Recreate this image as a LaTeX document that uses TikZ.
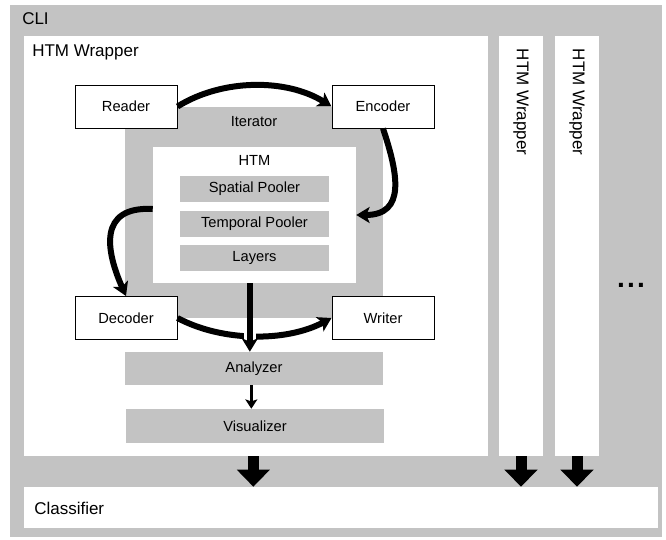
\documentclass[tikz,border=0pt]{standalone}
\usepackage{fontspec}
\setmainfont{Liberation Sans}
\usetikzlibrary{arrows.meta}
\definecolor{clig}{HTML}{C3C3C3}

\begin{document}
\begin{tikzpicture}[x=.75pt,y=-.75pt,font=\fontsize{11}{13}\selectfont,
 pane/.style={fill=clig,inner sep=0pt},
 sheet/.style={fill=white,inner sep=0pt},
 unit/.style={draw=black,fill=white,line width=.75pt,minimum width=76.5pt,minimum height=32.25pt,inner sep=0pt},
 layer/.style={fill=clig,minimum width=111.75pt,minimum height=19.5pt,inner sep=0pt},
 stage/.style={fill=clig,minimum width=193.5pt,minimum height=24.75pt,inner sep=0pt},
 big/.style={font=\fontsize{12.75}{15}\selectfont,inner sep=0pt},
 flow/.style={-{Stealth[length=10pt,width=12pt,inset=2.5pt]},line width=4.5pt},
 thin/.style={-{Stealth[length=7pt,width=9pt,inset=1.5pt]},line width=2.25pt},
 push/.style={-{Triangle[length=12.75pt,width=24pt]},line width=8.25pt}]
\useasboundingbox (0,0) rectangle (666,539);
% frames
\node[pane,minimum width=489pt,minimum height=399pt] (cli) at (336,271) {};
\node[big,anchor=west] (clilab) at (22,19) {CLI};
\node[sheet,minimum width=348pt,minimum height=315pt] (wrap) at (256,246) {};
\node[big,anchor=west] (wraplab) at (32,52) {HTM Wrapper};
\node[sheet,minimum width=33pt,minimum height=315pt] (col1) at (521,246) {};
\node[sheet,minimum width=33pt,minimum height=315pt] (col2) at (577,246) {};
\node[big,rotate=-90] (col1lab) at (521,102) {HTM Wrapper};
\node[big,rotate=-90] (col2lab) at (577,102) {HTM Wrapper};
\node[inner sep=0pt] (dots) at (631,285) {\fontsize{21}{21}\selectfont\bfseries .\kern1.6pt.\kern1.6pt.};
% iterator and htm
\node[pane,minimum width=193.5pt,minimum height=158.25pt] (iter) at (254,212.5) {};
\node (iterlab) at (254,121.5) {Iterator};
\node[sheet,minimum width=152.25pt,minimum height=102pt] (htm) at (254.5,215) {};
\node (htmlab) at (254.5,160) {HTM};
\node[layer] (sp) at (254.5,189) {Spatial Pooler};
\node[layer] (tp) at (254.5,224) {Temporal Pooler};
\node[layer] (lay) at (254.5,258) {Layers};
\node[stage] (ana) at (254,368.5) {Analyzer};
\node[stage,minimum height=25.5pt] (vis) at (255,426) {Visualizer};
\node[sheet,minimum width=475.5pt,minimum height=30.75pt] (cls) at (341,507.5) {};
\node[big,anchor=west] (clslab) at (34,508) {Classifier};
% io boxes
\node[unit] (rd) at (126,106.5) {Reader};
\node[unit] (enc) at (383,106.5) {Encoder};
\node[unit] (dec) at (126,318) {Decoder};
\node[unit] (wrt) at (383,318) {Writer};
% flows
\draw[flow] (rd.east) .. controls +(45,-28) and +(-45,-28) .. (enc.west);
\draw[flow] (enc.south) .. controls +(15,45) and +(50,0) .. (htm.east);
\draw[flow] ([yshift=4.5pt]htm.west) .. controls +(-55,-3) and +(-20,-45) .. (dec.north);
\draw[flow] (dec.east) .. controls +(45,24) and +(-45,24) .. (wrt.west);
\coordinate (tap) at ([xshift=-3.5pt]htm.south);
\draw[white,line width=9pt] (tap |- dec.east) -- (tap |- ana.north);
\draw[flow] (tap) -- (tap |- ana.north);
\draw[thin] ([xshift=-2pt]ana.south) -- ([xshift=-2pt]ana.south |- vis.north);
\draw[push] ([xshift=-2pt]wrap.south) -- ([xshift=-2pt]wrap.south |- cls.north);
\foreach \c in {col1,col2} \draw[push] (\c.south) -- (\c.south |- cls.north);
\end{tikzpicture}
\end{document}
